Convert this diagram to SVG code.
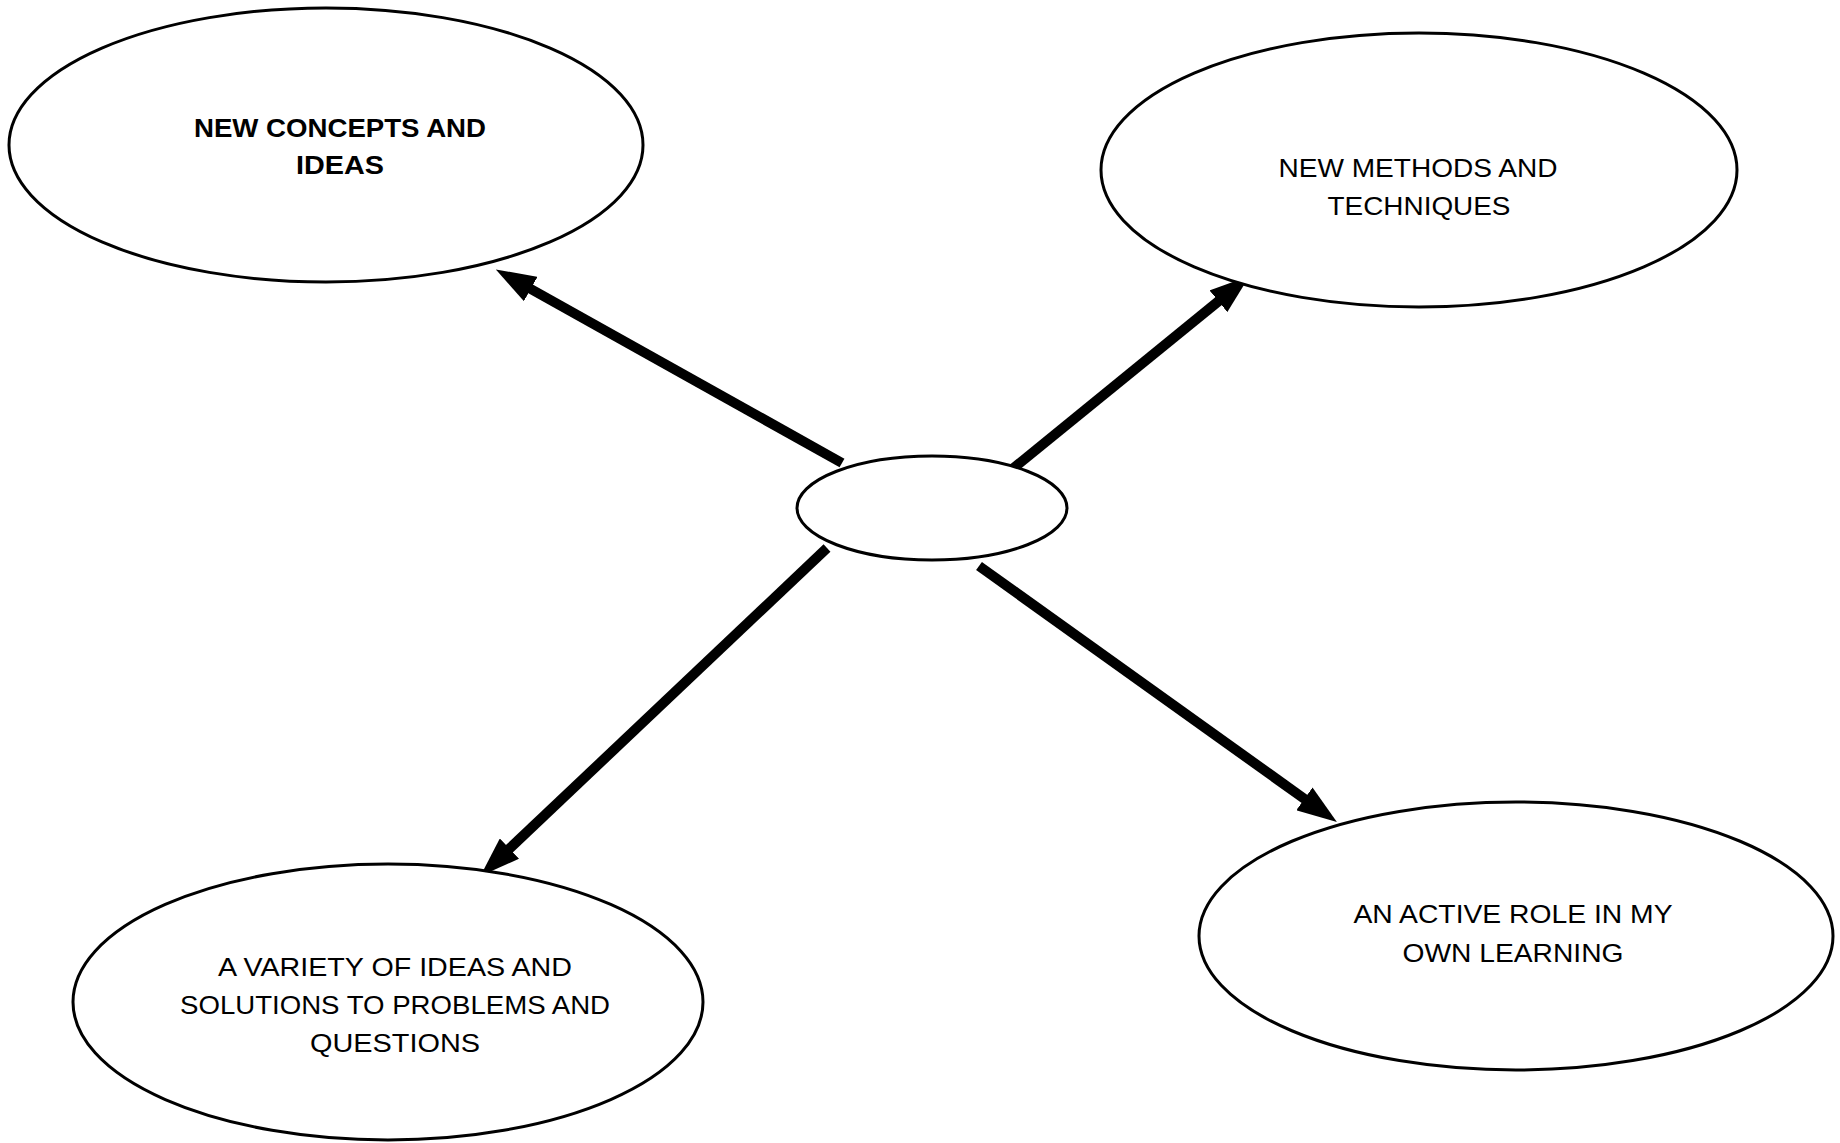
<svg xmlns="http://www.w3.org/2000/svg" width="1840" height="1143" viewBox="0 0 1840 1143">
  <style>
    .node ellipse { fill: #ffffff; stroke: #000000; stroke-width: 3; }
    .label { font-family: "Liberation Sans", "Open Sans", sans-serif; font-size: 26px; fill: #000000; text-anchor: middle; }
    .bold { font-weight: bold; }
    .conn { stroke: #000000; stroke-width: 10; fill: none; stroke-linecap: butt; marker-end: url(#head); }
  </style>
  <defs>
    <marker id="head" markerUnits="userSpaceOnUse" viewBox="0 0 40 28" markerWidth="40" markerHeight="28" refX="2" refY="14" orient="auto">
      <path d="M0,0 L40,14 L0,28 z" fill="#000000"/>
    </marker>
  </defs>
  <rect width="1840" height="1143" fill="#ffffff"/>

  <!-- connectors from the hub outward -->
  <g id="connectors">
    <path class="conn" d="M842,463 L529,288"/>
    <path class="conn" d="M1010,471 L1220,300"/>
    <path class="conn" d="M827,548 L508,850"/>
    <path class="conn" d="M979,566 L1306,800"/>
  </g>

  <g id="hub" class="node">
    <ellipse cx="932" cy="508" rx="135" ry="52"/>
  </g>

  <g id="concepts" class="node">
    <ellipse cx="326" cy="145" rx="317" ry="137"/>
    <text class="label bold" x="340" y="137" textLength="292" lengthAdjust="spacingAndGlyphs">NEW CONCEPTS AND</text>
    <text class="label bold" x="340" y="174" textLength="88" lengthAdjust="spacingAndGlyphs">IDEAS</text>
  </g>

  <g id="methods" class="node">
    <ellipse cx="1419" cy="170" rx="318" ry="137"/>
    <text class="label" x="1418" y="177" textLength="279" lengthAdjust="spacingAndGlyphs">NEW METHODS AND</text>
    <text class="label" x="1419" y="215" textLength="183" lengthAdjust="spacingAndGlyphs">TECHNIQUES</text>
  </g>

  <g id="variety" class="node">
    <ellipse cx="388" cy="1002" rx="315" ry="138"/>
    <text class="label" x="395" y="976" textLength="354" lengthAdjust="spacingAndGlyphs">A VARIETY OF IDEAS AND</text>
    <text class="label" x="395" y="1014" textLength="430" lengthAdjust="spacingAndGlyphs">SOLUTIONS TO PROBLEMS AND</text>
    <text class="label" x="395" y="1052" textLength="170" lengthAdjust="spacingAndGlyphs">QUESTIONS</text>
  </g>

  <g id="active-role" class="node">
    <ellipse cx="1516" cy="936" rx="317" ry="134"/>
    <text class="label" x="1513" y="923" textLength="319" lengthAdjust="spacingAndGlyphs">AN ACTIVE ROLE IN MY</text>
    <text class="label" x="1513" y="962" textLength="221" lengthAdjust="spacingAndGlyphs">OWN LEARNING</text>
  </g>
</svg>
